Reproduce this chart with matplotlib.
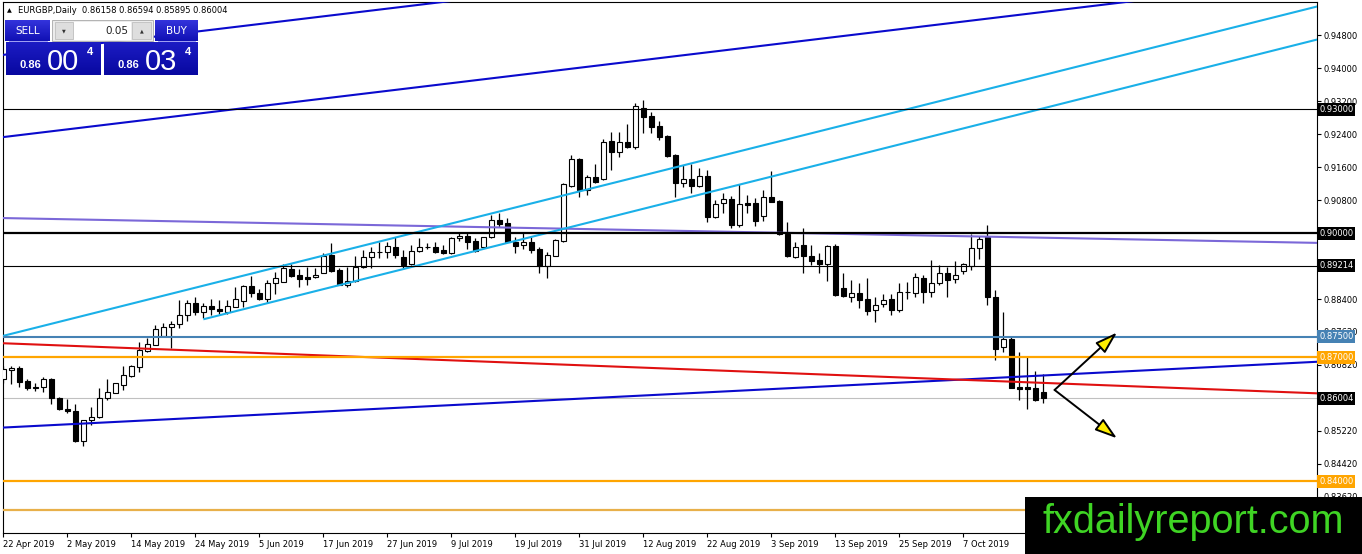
import numpy as np
import matplotlib
matplotlib.use('Agg')
import matplotlib.pyplot as plt
from matplotlib.patches import Rectangle, FancyArrowPatch
from matplotlib.colors import LinearSegmentedColormap

# EURGBP daily candles, 22 Apr 2019 -> 21 Oct 2019
opens = [
    0.8648, 0.8669, 0.8675, 0.8643, 0.8627, 0.8627, 0.8647, 0.8602, 0.8576, 0.8570,
    0.8498, 0.8548, 0.8555, 0.8601, 0.8614, 0.8632, 0.8655, 0.8677, 0.8716, 0.8730,
    0.8752, 0.8773, 0.8780, 0.8803, 0.8831, 0.8809, 0.8824, 0.8817, 0.8810, 0.8822,
    0.8836, 0.8873, 0.8855, 0.8841, 0.8879, 0.8883, 0.8914, 0.8899, 0.8894, 0.8894,
    0.8905, 0.8948, 0.8911, 0.8875, 0.8885, 0.8919, 0.8942, 0.8954, 0.8954, 0.8966,
    0.8943, 0.8926, 0.8958, 0.8968, 0.8966, 0.8960, 0.8953, 0.8988, 0.8993, 0.8981,
    0.8966, 0.8990, 0.9032, 0.9024, 0.8980, 0.8972, 0.8980, 0.8961, 0.8921, 0.8945,
    0.8982, 0.9115, 0.9179, 0.9105, 0.9136, 0.9131, 0.9224, 0.9198, 0.9220, 0.9210,
    0.9303, 0.9284, 0.9260, 0.9236, 0.9190, 0.9123, 0.9131, 0.9115, 0.9139, 0.9039,
    0.9073, 0.9082, 0.9020, 0.9073, 0.9073, 0.9041, 0.9088, 0.9079, 0.8999, 0.8942,
    0.8972, 0.8945, 0.8935, 0.8927, 0.8969, 0.8867, 0.8846, 0.8856, 0.8840, 0.8814,
    0.8828, 0.8840, 0.8814, 0.8857, 0.8855, 0.8893, 0.8858, 0.8880, 0.8905, 0.8889,
    0.8910, 0.8921, 0.8964, 0.8992, 0.8845, 0.8725, 0.8744, 0.8627, 0.8627, 0.8625,
    0.86158]
highs = [
    0.8679, 0.8679, 0.8679, 0.8647, 0.8637, 0.8652, 0.8649, 0.8605, 0.8599, 0.8587,
    0.8549, 0.8580, 0.8625, 0.8648, 0.8638, 0.8679, 0.8681, 0.8738, 0.8747, 0.8777,
    0.8784, 0.8787, 0.8839, 0.8839, 0.8847, 0.8831, 0.8840, 0.8839, 0.8839, 0.8871,
    0.8874, 0.8897, 0.8865, 0.8887, 0.8907, 0.8927, 0.8927, 0.8913, 0.8919, 0.8915,
    0.8952, 0.8976, 0.8915, 0.8919, 0.8945, 0.8960, 0.8968, 0.8980, 0.8980, 0.8992,
    0.8960, 0.8972, 0.8988, 0.8976, 0.8980, 0.8972, 0.8992, 0.9004, 0.9004, 0.8988,
    0.8992, 0.9044, 0.9050, 0.9037, 0.8992, 0.9000, 0.8992, 0.8968, 0.8956, 0.8986,
    0.9121, 0.9190, 0.9182, 0.9141, 0.9169, 0.9228, 0.9246, 0.9246, 0.9264, 0.9315,
    0.9323, 0.9294, 0.9272, 0.9237, 0.9191, 0.9165, 0.9169, 0.9157, 0.9153, 0.9081,
    0.9097, 0.9090, 0.9120, 0.9092, 0.9085, 0.9105, 0.9150, 0.9080, 0.9028, 0.8980,
    0.9013, 0.8972, 0.8952, 0.8972, 0.8974, 0.8903, 0.8887, 0.8881, 0.8891, 0.8847,
    0.8853, 0.8853, 0.8880, 0.8883, 0.8903, 0.8899, 0.8935, 0.8923, 0.8919, 0.8934,
    0.8928, 0.8998, 0.8994, 0.9020, 0.8864, 0.8810, 0.8748, 0.8714, 0.8700, 0.8666,
    0.86594]
lows = [
    0.8638, 0.8635, 0.8628, 0.8622, 0.8618, 0.8616, 0.8588, 0.8573, 0.8566, 0.8494,
    0.8486, 0.8536, 0.8553, 0.8597, 0.8613, 0.8621, 0.8652, 0.8665, 0.8714, 0.8729,
    0.8751, 0.8723, 0.8771, 0.8787, 0.8803, 0.8795, 0.8803, 0.8806, 0.8806, 0.8821,
    0.8822, 0.8847, 0.8839, 0.8831, 0.8853, 0.8882, 0.8895, 0.8871, 0.8875, 0.8891,
    0.8903, 0.8907, 0.8874, 0.8871, 0.8883, 0.8915, 0.8915, 0.8940, 0.8940, 0.8940,
    0.8915, 0.8923, 0.8956, 0.8961, 0.8953, 0.8950, 0.8950, 0.8982, 0.8961, 0.8956,
    0.8964, 0.8988, 0.9016, 0.8980, 0.8953, 0.8961, 0.8952, 0.8903, 0.8891, 0.8944,
    0.8978, 0.9113, 0.9087, 0.9093, 0.9123, 0.9129, 0.9153, 0.9185, 0.9206, 0.9204,
    0.9244, 0.9242, 0.9226, 0.9185, 0.9089, 0.9111, 0.9098, 0.9113, 0.9028, 0.9038,
    0.9049, 0.9014, 0.9016, 0.9049, 0.9018, 0.9031, 0.9077, 0.8996, 0.8942, 0.8941,
    0.8903, 0.8923, 0.8903, 0.8884, 0.8848, 0.8846, 0.8834, 0.8819, 0.8803, 0.8785,
    0.8821, 0.8803, 0.8809, 0.8842, 0.8845, 0.8831, 0.8845, 0.8875, 0.8845, 0.8879,
    0.8902, 0.8911, 0.8937, 0.8827, 0.8693, 0.8714, 0.8625, 0.8597, 0.8574, 0.8595,
    0.85895]
closes = [
    0.8672, 0.8675, 0.8641, 0.8626, 0.8626, 0.8647, 0.8601, 0.8574, 0.8571, 0.8498,
    0.8548, 0.8556, 0.8601, 0.8615, 0.8637, 0.8656, 0.8679, 0.8718, 0.8732, 0.8768,
    0.8773, 0.8781, 0.8803, 0.8831, 0.8810, 0.8824, 0.8816, 0.8811, 0.8824, 0.8841,
    0.8873, 0.8855, 0.8841, 0.8879, 0.8891, 0.8915, 0.8897, 0.8890, 0.8890, 0.8899,
    0.8945, 0.8910, 0.8875, 0.8885, 0.8919, 0.8942, 0.8956, 0.8956, 0.8969, 0.8948,
    0.8923, 0.8958, 0.8966, 0.8967, 0.8956, 0.8953, 0.8989, 0.8993, 0.8980, 0.8958,
    0.8990, 0.9032, 0.9023, 0.8980, 0.8970, 0.8980, 0.8960, 0.8921, 0.8948, 0.8984,
    0.9119, 0.9179, 0.9105, 0.9136, 0.9125, 0.9222, 0.9198, 0.9220, 0.9209, 0.9308,
    0.9282, 0.9258, 0.9234, 0.9188, 0.9123, 0.9131, 0.9115, 0.9139, 0.9039, 0.9071,
    0.9082, 0.9020, 0.9071, 0.9069, 0.9031, 0.9088, 0.9077, 0.8999, 0.8944, 0.8968,
    0.8945, 0.8934, 0.8927, 0.8969, 0.8851, 0.8848, 0.8855, 0.8839, 0.8813, 0.8827,
    0.8839, 0.8814, 0.8858, 0.8858, 0.8895, 0.8858, 0.8879, 0.8905, 0.8887, 0.8899,
    0.8925, 0.8964, 0.8986, 0.8845, 0.8719, 0.8744, 0.8625, 0.8624, 0.8624, 0.8597,
    0.86004]

date_labels = ['22 Apr 2019', '2 May 2019', '14 May 2019', '24 May 2019', '5 Jun 2019',
               '17 Jun 2019', '27 Jun 2019', '9 Jul 2019', '19 Jul 2019', '31 Jul 2019',
               '12 Aug 2019', '22 Aug 2019', '3 Sep 2019', '13 Sep 2019', '25 Sep 2019',
               '7 Oct 2019']
label_step = 8   # one date label every 8 bars

# price scale labels that are not hidden behind a level box
price_ticks = [0.948, 0.940, 0.932, 0.924, 0.916, 0.908, 0.884,
               0.8762, 0.8682, 0.8522, 0.8442, 0.8362]

# horizontal levels
level_prices = [0.93, 0.90, 0.89214, 0.875, 0.87, 0.84, 0.833]
level_colors = ['black', 'black', 'black', '#4682b4', '#ffa500', '#ffa500', '#e8b04a']
level_widths = [0.8, 1.6, 0.8, 1.5, 1.6, 1.6, 1.6]
level_boxed = [True, True, True, True, True, True, False]

# trend lines as (bar, price) anchors
line_blue_a = [(0, 0.9432), (100, 0.9665)]
line_blue_b = [(0, 0.9233), (100, 0.9466)]
line_blue_c = [(0, 0.8530), (164, 0.8689)]
line_red = [(0, 0.8734), (164, 0.8613)]
line_purple = [(0, 0.9037), (164, 0.8977)]
line_cyan_a = [(0, 0.8752), (164, 0.9548)]
line_cyan_b = [(25, 0.8792), (164, 0.9468)]

arrow_start = (131.4, 0.8621)
arrow_tips = [(139.2, 0.8760), (139.2, 0.8504)]

W, H = 1362, 554
fig = plt.figure(figsize=(W / 100, H / 100), dpi=100)
fig.patch.set_facecolor('white')
ax = fig.add_axes([3 / W, 1 - 533 / H, 1314 / W, 531 / H])
ax.set_xlim(-0.04, 164.2)
ax.set_ylim(0.82748, 0.95599)
for s in ax.spines.values():
    s.set_color('black')
    s.set_linewidth(0.8)

o = np.array(opens); hi = np.array(highs); lo = np.array(lows); c = np.array(closes)
x = np.arange(len(o))
up = c >= o
body_lo = np.minimum(o, c)
body_h = np.maximum(np.abs(c - o), 0.00008)

ax.vlines(x, lo, hi, color='black', lw=0.9, zorder=3)
ax.bar(x[up], body_h[up], bottom=body_lo[up], width=0.62, color='white',
       edgecolor='black', linewidth=0.8, zorder=4)
ax.bar(x[~up], body_h[~up], bottom=body_lo[~up], width=0.62, color='black',
       edgecolor='black', linewidth=0.8, zorder=4)


def draw_line(pts, color, lw, x0=-1, x1=170):
    (xa, ya), (xb, yb) = pts
    k = (yb - ya) / (xb - xa)
    xs = np.array([x0, x1])
    ax.plot(xs, ya + k * (xs - xa), color=color, lw=lw, zorder=5, solid_capstyle='butt')


draw_line(line_purple, '#7b68d8', 1.5)
draw_line(line_blue_a, '#0a0acd', 1.5)
draw_line(line_blue_b, '#0a0acd', 1.5)
draw_line(line_blue_c, '#0a0acd', 1.5)
draw_line(line_red, '#e01010', 1.5)
draw_line(line_cyan_a, '#1ab0e8', 1.5)
draw_line(line_cyan_b, '#1ab0e8', 1.5, x0=line_cyan_b[0][0])

for p, col, lw in zip(level_prices, level_colors, level_widths):
    ax.axhline(p, color=col, lw=lw, zorder=5)
ax.axhline(closes[-1], color='#c0c0c0', lw=0.8, zorder=2)

for tip in arrow_tips:
    ax.add_patch(FancyArrowPatch(arrow_start, tip, arrowstyle='-|>,head_length=0.85,head_width=0.27',
                                 mutation_scale=16, lw=1.4, edgecolor='black',
                                 facecolor='#ffee00', zorder=6, shrinkA=0, shrinkB=0))

# axes: price scale on the right, dates below
ax.yaxis.tick_right()
ax.set_yticks(price_ticks)
ax.set_yticklabels([f'{p:.5f}' for p in price_ticks])
ax.tick_params(axis='y', direction='out', length=3, width=0.8, pad=1.5, labelsize=6)
ax.set_xticks(np.arange(len(date_labels)) * label_step)
ax.set_xticklabels(date_labels)
for t in ax.get_xticklabels():
    t.set_ha('left')
ax.tick_params(axis='x', direction='out', length=3, width=0.8, pad=2, labelsize=6)

box_prices = [p for p, b in zip(level_prices, level_boxed) if b] + [closes[-1]]
box_colors = [cl for cl, b in zip(level_colors, level_boxed) if b] + ['black']
for p, cl in zip(box_prices, box_colors):
    ax.annotate(f'{p:.5f}', xy=(1, p), xycoords=('axes fraction', 'data'),
                xytext=(1.5, 0), textcoords='offset points', ha='left', va='center',
                fontsize=6, color='white', annotation_clip=False, zorder=10,
                bbox=dict(boxstyle='square,pad=0.22', fc=cl, ec='none'))

# overlay in pixel coordinates: header, trade panel, watermark
ov = fig.add_axes([0, 0, 1, 1], zorder=20)
ov.set_xlim(0, W)
ov.set_ylim(H, 0)
ov.axis('off')
ov.patch.set_alpha(0)

ov.text(9, 10.5, '\u25b2', fontsize=4.5, ha='center', va='center', color='black')
ov.text(18, 10.5, f'EURGBP,Daily  {opens[-1]:.5f} {highs[-1]:.5f} {lows[-1]:.5f} {closes[-1]:.5f}',
        fontsize=6, ha='left', va='center', color='black')

blue_cm = LinearSegmentedColormap.from_list('btn', ['#3434dc', '#1010b4'])
box_cm = LinearSegmentedColormap.from_list('box', ['#1c1cc4', '#0808a0'])
grad = np.linspace(0, 1, 64).reshape(-1, 1)


def grad_rect(x0, y0, x1, y1, cmap):
    ov.imshow(grad, extent=(x0, x1, y1, y0), cmap=cmap, aspect='auto', origin='upper', zorder=1)


grad_rect(5, 20, 50, 41, blue_cm)
grad_rect(155, 20, 198, 41, blue_cm)
grad_rect(6, 42, 101, 75, box_cm)
grad_rect(104, 42, 198, 75, box_cm)
ov.plot([9, 47], [40.5, 40.5], color='#8c8cf0', lw=0.6, zorder=2)
ov.plot([158, 195], [40.5, 40.5], color='#8c8cf0', lw=0.6, zorder=2)
ov.add_patch(Rectangle((52, 20), 101, 21, fc='#ececec', ec='#a8a8a8', lw=0.6, zorder=1))
ov.add_patch(Rectangle((74, 21.5), 57, 18, fc='white', ec='none', zorder=2))
ov.add_patch(Rectangle((55, 22), 18, 17, fc='#dedede', ec='#b8b8b8', lw=0.5, zorder=2))
ov.add_patch(Rectangle((132, 22), 19, 17, fc='#dedede', ec='#b8b8b8', lw=0.5, zorder=2))
ov.text(64, 30.5, '\u25bc', fontsize=3.5, ha='center', va='center', color='#333333', zorder=3)
ov.text(141.5, 30.5, '\u25b2', fontsize=3.5, ha='center', va='center', color='#333333', zorder=3)
ov.text(128, 30.5, '0.05', fontsize=7.5, ha='right', va='center', color='#222222', zorder=3)
ov.text(27.5, 30.5, 'SELL', fontsize=7.5, ha='center', va='center', color='white', zorder=3)
ov.text(176.5, 30.5, 'BUY', fontsize=7.5, ha='center', va='center', color='white', zorder=3)

for x0, big in [(20, '00'), (118, '03')]:
    ov.text(x0, 68, '0.86', fontsize=8, fontweight='bold', family='Liberation Sans',
            ha='left', va='baseline', color='white', zorder=3)
    ov.text(x0 + 27, 70, big, fontsize=21, family='Liberation Sans',
            ha='left', va='baseline', color='white', zorder=3)
    ov.text(x0 + 67, 55, '4', fontsize=8, fontweight='bold', family='Liberation Sans',
            ha='left', va='baseline', color='white', zorder=3)

ov.add_patch(Rectangle((1025, 497), W - 1025, H - 497, fc='black', ec='none', zorder=5))
ov.text(1193.5, 533, 'fxdailyreport.com', fontsize=28.5, family='Liberation Sans',
        ha='center', va='baseline', color='#3fd424', zorder=6)

fig.savefig('out.png', dpi=100, facecolor='white')
